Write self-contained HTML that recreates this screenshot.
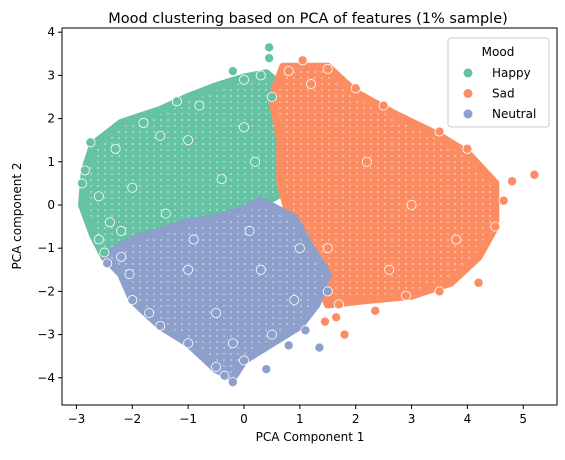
<!DOCTYPE html>
<html><head><meta charset="utf-8"><style>
body{margin:0;background:#fff;font-family:"Liberation Sans","DejaVu Sans",sans-serif}
svg text{font-family:"DejaVu Sans","Liberation Sans",sans-serif}
</style></head><body>
<svg id="chart" width="565" height="455" xmlns="http://www.w3.org/2000/svg">
<defs>
<pattern id="pat0" width="7" height="6" patternUnits="userSpaceOnUse"><rect width="7" height="6" fill="#66c2a5"/><circle cx="3.5" cy="3" r="4.2" fill="none" stroke="#fff" stroke-width="0.5" stroke-opacity="0.8"/></pattern>
<pattern id="pat1" width="7" height="6" patternUnits="userSpaceOnUse"><rect width="7" height="6" fill="#fc8d62"/><circle cx="3.5" cy="3" r="4.2" fill="none" stroke="#fff" stroke-width="0.5" stroke-opacity="0.8"/></pattern>
<pattern id="pat2" width="7" height="6" patternUnits="userSpaceOnUse"><rect width="7" height="6" fill="#8da0cb"/><circle cx="3.5" cy="3" r="4.2" fill="none" stroke="#fff" stroke-width="0.5" stroke-opacity="0.8"/></pattern>
</defs>
<rect x="0" y="0" width="565" height="455" fill="#fff"/>
<g id="marks"></g>
<g id="axes"></g>
</svg>
<script>
const categories=["Happy","Sad","Neutral"];
const colors=["#66c2a5","#fc8d62","#8da0cb"];
const happyHull=[[-2.85,0.8],[-2.7,1.4],[-2.2,1.9],[-1.5,2.2],[-1,2.5],[-0.5,2.75],[0,2.95],[0.4,3.05],[0.7,2.7],[0.7,2.0],[0.6,1.2],[0.7,0.3],[0.3,0.0],[0,-0.1],[-0.5,-0.3],[-1,-0.4],[-1.5,-0.6],[-2,-0.8],[-2.5,-1.2],[-2.7,-0.7],[-2.9,0.0]];
const sadHull=[[0.7,3.2],[1.5,3.2],[2,2.6],[2.7,2.1],[3.5,1.6],[4,1.2],[4.5,0.5],[4.5,-0.5],[4.2,-1.2],[3.7,-1.8],[3,-2.1],[2.2,-2.2],[1.5,-2.3],[1.2,-1.5],[1,-0.7],[0.8,-0.2],[0.65,0.5],[0.65,1.5],[0.5,2.5]];
const neutralHull=[[0.3,0.1],[0.9,-0.3],[1.2,-1.0],[1.5,-1.6],[1.3,-2.3],[1,-2.8],[0.5,-3.2],[0,-3.6],[-0.2,-4.0],[-0.5,-3.8],[-1,-3.2],[-1.5,-2.8],[-2,-2.2],[-2.2,-1.6],[-2.5,-1.2],[-2,-0.8],[-1.5,-0.6],[-1,-0.4],[-0.5,-0.3],[0,-0.1]];
const happyX=[0.45,0.45,-0.2,-2.85,-2.9,-2.75,-2.6,-2.5,-1.2,-0.8,0,0.3,-1.8,-2.3,-2.6,-2.2,-1.5,-1,0,0.5,-2.0,-0.4,0.2,-1.4,-2.4];
const happyY=[3.65,3.4,3.1,0.8,0.5,1.45,-0.8,-1.1,2.4,2.3,2.9,3.0,1.9,1.3,0.2,-0.6,1.6,1.5,1.8,2.5,0.4,0.6,1.0,-0.2,-0.4];
const sadX=[1.05,1.5,0.8,4.8,5.2,4.65,4.5,4.2,3.5,2.9,2.35,1.65,1.8,1.45,1.7,4,3.5,2.5,2,1.2,3.0,2.2,1.5,3.8,2.6];
const sadY=[3.35,3.15,3.1,0.55,0.7,0.1,-0.5,-1.8,-2.0,-2.1,-2.45,-2.6,-3.0,-2.7,-2.3,1.3,1.7,2.3,2.7,2.8,0.0,1.0,-1.0,-0.8,-1.5];
const neutralX=[-0.2,-0.35,0.4,-0.5,0,0.8,1.35,1.1,-1,-1.5,-2,-2.05,-2.45,-2.2,0.5,1.5,-0.5,0.3,-1,1,-1.7,-0.9,0.1,0.9,-0.2];
const neutralY=[-4.1,-3.95,-3.8,-3.75,-3.6,-3.25,-3.3,-2.9,-3.2,-2.8,-2.2,-1.6,-1.35,-1.2,-3.0,-2.0,-2.5,-1.5,-1.5,-1,-2.5,-0.8,-0.6,-2.2,-3.2];
const xTicks=[-3,-2,-1,0,1,2,3,4,5];
const yTicks=[-4,-3,-2,-1,0,1,2,3,4];
const L=62,R=557,T=28,B=405;
function sx(v){return 244+v*55.85;}
function sy(v){return 205-v*43.2;}
const NS="http://www.w3.org/2000/svg";
function mk(tag,attrs,parent){const e=document.createElementNS(NS,tag);for(const k in attrs)e.setAttribute(k,attrs[k]);parent.appendChild(e);return e;}
const marks=document.getElementById('marks'),axes=document.getElementById('axes');
const hulls=[happyHull,sadHull,neutralHull];
const xs=[happyX,sadX,neutralX],ys=[happyY,sadY,neutralY];
hulls.forEach((h,i)=>{
  const p=mk('polygon',{points:h.map(q=>sx(q[0])+','+sy(q[1])).join(' '),fill:'url(#pat'+i+')',stroke:colors[i],'stroke-width':8,'stroke-linejoin':'round'},marks);
  
  
});
xs.forEach((arr,i)=>{
  arr.forEach((x,j)=>{
    const c=mk('circle',{cx:sx(x),cy:sy(ys[i][j]),r:4.6,fill:colors[i],stroke:'#fff','stroke-width':0.8},marks);
    
    
  });
});
mk('rect',{x:L,y:T,width:R-L,height:B-T,fill:'none',stroke:'#000','stroke-width':1},axes);
xTicks.forEach(t=>{
  mk('line',{x1:sx(t),x2:sx(t),y1:B,y2:B+4,stroke:'#000'},axes);
  const tx=mk('text',{x:sx(t),y:B+18,'text-anchor':'middle','font-size':12},axes);
  tx.textContent=t<0?'\u2212'+(-t):t;
  
  
});
yTicks.forEach(t=>{
  mk('line',{x1:L-4,x2:L,y1:sy(t),y2:sy(t),stroke:'#000'},axes);
  const tx=mk('text',{x:L-7,y:sy(t)+4,'text-anchor':'end','font-size':12},axes);
  tx.textContent=t<0?'\u2212'+(-t):t;
  
  
});
let e=mk('text',{x:308,y:23,'text-anchor':'middle','font-size':14.5},axes);e.textContent='Mood clustering based on PCA of features (1% sample)';


e=mk('text',{x:310,y:441,'text-anchor':'middle','font-size':12},axes);e.textContent='PCA Component 1';


e=mk('text',{x:21,y:216,'text-anchor':'middle','font-size':12,transform:'rotate(-90 21 216)'},axes);e.textContent='PCA component 2';


const lg=mk('g',{},axes);


mk('rect',{x:448,y:38,width:101,height:89,rx:3,fill:'#fff','fill-opacity':0.85,stroke:'#ccc'},lg);
e=mk('text',{x:498,y:56,'text-anchor':'middle','font-size':12},lg);e.textContent='Mood';
categories.forEach((c,i)=>{
  const g=mk('g',{},lg);
  
  
  mk('circle',{cx:468,cy:73+i*20.5,r:4.5,fill:colors[i]},g);
  const t=mk('text',{x:492,y:77+i*20.5,'font-size':12},g);t.textContent=c;
});
</script>
</body></html>
